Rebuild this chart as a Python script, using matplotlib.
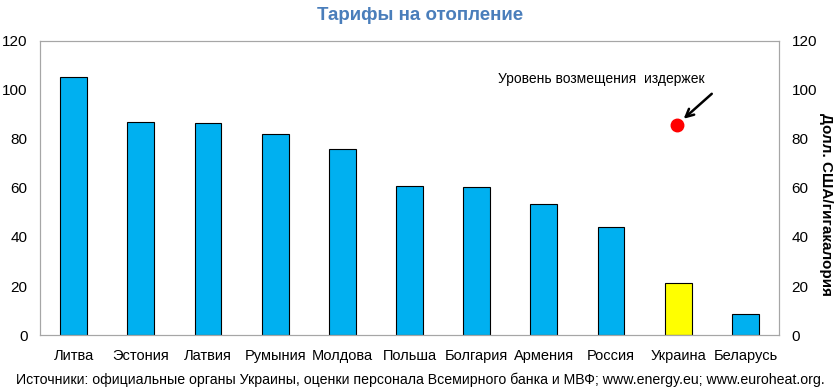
import matplotlib.pyplot as plt

countries = ["Литва", "Эстония", "Латвия", "Румыния", "Молдова", "Польша",
             "Болгария", "Армения", "Россия", "Украина", "Беларусь"]
tariffs = [105.3, 86.9, 86.5, 82.0, 75.9, 60.8, 60.4, 53.5, 44.0, 21.2, 8.6]
bar_colors = ["#00b0f0"] * 9 + ["#ffff00", "#00b0f0"]
cost_recovery_x = 8.98
cost_recovery = 85.7
yticks = [0, 20, 40, 60, 80, 100, 120]

plt.rcParams['font.family'] = ['Liberation Sans', 'DejaVu Sans']

fig = plt.figure(figsize=(8.4, 3.91), dpi=100)
ax = fig.add_axes([0.0476, 0.1432, 0.8798, 0.752])

x = range(len(countries))
ax.bar(x, tariffs, width=0.4, color=bar_colors, edgecolor="black", linewidth=0.8, zorder=2)
ax.plot([cost_recovery_x], [cost_recovery], "o", color="#ff0000", markersize=9, zorder=3)
# arrow pointing at the cost recovery dot
ax.annotate("", xy=(cost_recovery_x + 0.07, cost_recovery + 1.8),
            xytext=(cost_recovery_x + 0.55, cost_recovery + 13.5),
            arrowprops=dict(arrowstyle="->", lw=1.8, color="black", mutation_scale=14))
ax.text(cost_recovery_x - 1.12, 104.3, "Уровень возмещения  издержек",
        ha="center", va="center", fontsize=10)

ax.set_xlim(-0.5, 10.5)
ax.set_ylim(0, 120)
ax.set_yticks(yticks)
ax.set_xticks(list(x))
ax.set_xticklabels(countries)
ax.tick_params(axis="both", length=0, labelsize=11)
ax.tick_params(axis="x", pad=10, labelsize=10.5)
ax.tick_params(axis="y", pad=9)
for s in ax.spines.values():
    s.set_color("#a6a6a6")

ax2 = ax.twinx()
ax2.set_ylim(0, 120)
ax2.set_yticks(yticks)
ax2.tick_params(axis="y", length=0, labelsize=11, pad=9)
for s in ax2.spines.values():
    s.set_color("#a6a6a6")
ax2.set_ylabel("Долл. США/гигакалория", rotation=270, fontsize=11,
               fontweight="bold", va="center")
ax2.yaxis.set_label_coords(1.064, 0.445)

fig.text(0.5, 0.96, "Тарифы на отопление", ha="center", va="center",
         fontsize=13.5, fontweight="bold", color="#4a7ebb")
fig.text(0.5, 0.028, "Источники: официальные органы Украины, оценки персонала Всемирного банка и МВФ; www.energy.eu; www.euroheat.org.",
         ha="center", va="center", fontsize=10.2)

fig.savefig("out.png", dpi=100)
